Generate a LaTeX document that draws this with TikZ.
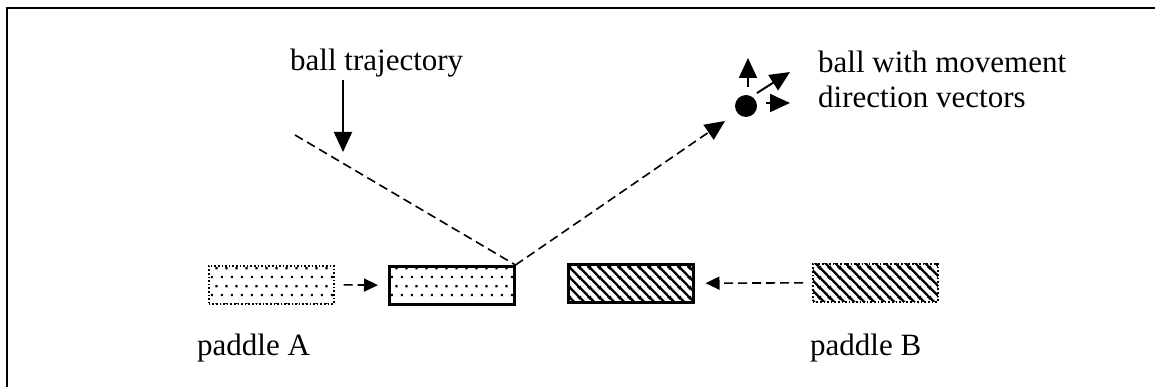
\documentclass[tikz,border=0pt]{standalone}
\usepackage{fontspec}
\setmainfont{Liberation Serif}
\usetikzlibrary{arrows.meta,patterns.meta}
\tikzdeclarepattern{
  name=sdots,
  bottom left={(0pt,0pt)}, top right={(10pt,18pt)},
  tile size={(10pt,18pt)},
  code={
    \fill (1pt,1pt) rectangle (3.2pt,3.2pt);
    \fill (6pt,10pt) rectangle (8.2pt,12.2pt);
  }
}
\tikzdeclarepattern{
  name=hatch,
  bottom left={(0pt,0pt)}, top right={(10pt,10pt)},
  tile size={(10pt,10pt)},
  code={
    \draw[line width=2.4pt, solid] (-2pt,12pt) -- (12pt,-2pt);
    \draw[line width=2.4pt, solid] (-2pt,2pt) -- (2pt,-2pt);
    \draw[line width=2.4pt, solid] (8pt,12pt) -- (12pt,8pt);
  }
}
\begin{document}
\begin{tikzpicture}[x=1pt,y=-1pt,
  lbl/.style={inner sep=0pt, anchor=base west, font=\fontsize{31}{36}\selectfont},
  pad/.style={minimum width=125pt, minimum height=38pt, inner sep=0pt, anchor=north west},
  solidpad/.style={pad, draw, line width=2.5pt},
  ghostpad/.style={pad, draw, dotted, line width=1.6pt},
  dotfill/.style={pattern=sdots},
  hatchfill/.style={pattern=hatch},
  dasharrow/.style={dash pattern=on 9pt off 5pt, line width=1.6pt, -{Triangle[length=14pt,width=13pt]}},
  trajline/.style={dash pattern=on 9pt off 5pt, line width=1.6pt},
  bigarrow/.style={line width=2pt, -{Triangle[length=20pt,width=18pt]}}
]
\useasboundingbox (0,0) rectangle (1155,387);
\clip (0,0) rectangle (1155,387);
% frame
\draw[line width=2pt] (7,400) -- (7,8) -- (1170,8);

% labels
\node[lbl] (bt) at (290,71) {ball trajectory};
\node[lbl] (bm1) at (818,73) {ball with movement};
\node[lbl] (bm2) at (818,108) {direction vectors};
\node[lbl] (la) at (197,355) {paddle A};
\node[lbl] (lb) at (810,355) {paddle B};

% paddles
\node[ghostpad, dotfill] (pa0) at (208,265) {};
\node[solidpad, dotfill] (pa1) at (388,265) {};
\node[solidpad, hatchfill] (pb1) at (567,263) {};
\node[ghostpad, hatchfill] (pb0) at (812,263) {};

% paddle movement arrows
\draw[dasharrow, shorten <=9pt, shorten >=10pt] (pa0.east) -- (pa1.west);
\draw[dasharrow, shorten <=9pt, shorten >=11pt] (pb0.west) -- (pb1.east);

% ball
\node[circle, fill, minimum size=22pt, inner sep=0pt] (ball) at (746,106) {};

% trajectory
\coordinate (ts) at (295,135);
\coordinate (te) at (725,121);
\coordinate (vt) at (343,152);
\draw[trajline] (ts) -- (pa1.north east);
\draw[trajline, -{Triangle[length=20pt,width=18pt]}] (pa1.north east) -- (te);
\draw[bigarrow] ([yshift=-2pt]bt.south -| vt) -- (vt);

% direction vectors
\coordinate (u0) at (748,87);
\coordinate (u1) at (748,58);
\coordinate (d0) at (757,93);
\coordinate (d1) at (790,72);
\coordinate (r0) at (766,103);
\coordinate (r1) at (790,103);
\draw[bigarrow] (u0) -- (u1);
\draw[bigarrow] (d0) -- (d1);
\draw[bigarrow] (r0) -- (r1);
\end{tikzpicture}
\end{document}
